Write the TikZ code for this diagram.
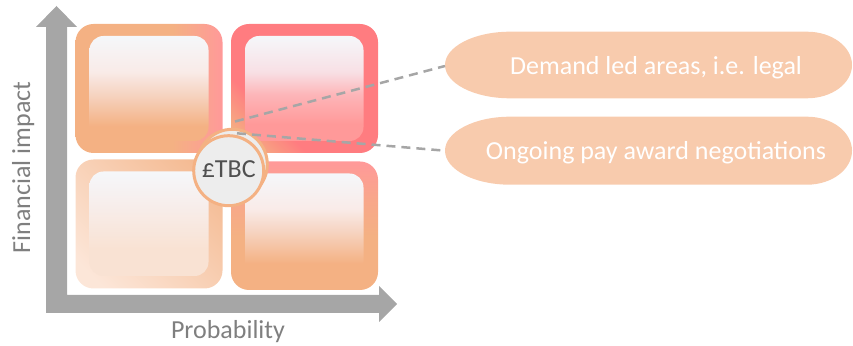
\documentclass[tikz,border=0pt]{standalone}
\usepackage{fontspec}
\setmainfont{Carlito}
\definecolor{orng}{HTML}{F4B183}
\definecolor{pinkR}{HTML}{FF7C80}
\definecolor{pinkL}{HTML}{FF9999}
\definecolor{pale}{HTML}{F5F7FA}
\definecolor{peach}{HTML}{FBE5D6}
\definecolor{lightor}{HTML}{F8CBAD}
\definecolor{axisgray}{HTML}{A6A6A6}
\definecolor{labelgray}{HTML}{7F7F7F}
\definecolor{circfill}{HTML}{EDEDED}
\definecolor{circtext}{HTML}{505050}
\definecolor{tlmidA}{HTML}{F6D3C0}
\definecolor{tlmidB}{HTML}{F9EBE8}
\definecolor{trmidA}{HTML}{FDB5B8}
\definecolor{trmidB}{HTML}{F8E0E5}
\definecolor{blbot}{HTML}{F9E2D3}
\definecolor{blmid}{HTML}{F7EEEC}
\definecolor{bloutA}{HTML}{FCE6D8}
\definecolor{bloutB}{HTML}{F4B990}
\definecolor{broutmid}{HTML}{F8A78A}
\pgfdeclarehorizontalshading{tlout}{100bp}{color(0bp)=(orng); color(58bp)=(orng); color(75bp)=(pinkL); color(100bp)=(pinkL)}
\pgfdeclareverticalshading{tlin}{100bp}{color(0bp)=(orng); color(32bp)=(orng); color(47bp)=(tlmidA); color(58bp)=(tlmidB); color(75bp)=(pale); color(100bp)=(pale)}
\pgfdeclareverticalshading{trin}{100bp}{color(0bp)=(pinkL); color(33bp)=(pinkL); color(47bp)=(trmidA); color(58bp)=(trmidB); color(75bp)=(pale); color(100bp)=(pale)}
\pgfdeclarehorizontalshading{trout}{100bp}{color(0bp)=(orng); color(20bp)=(orng); color(34bp)=(pinkR); color(100bp)=(pinkR)}
\pgfdeclareverticalshading{blin}{100bp}{color(0bp)=(blbot); color(38bp)=(blbot); color(60bp)=(blmid); color(75bp)=(pale); color(100bp)=(pale)}
\pgfdeclarehorizontalshading{blout}{100bp}{color(0bp)=(bloutA); color(22bp)=(bloutA); color(80bp)=(bloutB); color(100bp)=(bloutB)}
\pgfdeclareverticalshading{brout}{100bp}{color(0bp)=(orng); color(46bp)=(orng); color(60bp)=(broutmid); color(75bp)=(pinkL); color(100bp)=(pinkL)}
\begin{document}
\begin{tikzpicture}[x=1pt,y=1pt,
  outerbox/.style={minimum width=147pt, minimum height=129pt, rounded corners=18pt, inner sep=0pt},
  innerbox/.style={minimum width=119pt, minimum height=105pt, rounded corners=14pt, inner sep=0pt},
  coin/.style={circle, minimum size=70pt, inner sep=0pt, draw=orng, line width=3pt, fill=circfill},
  link/.style={draw=axisgray, line width=2.5pt, dash pattern=on 9pt off 6pt},
  pill/.style={fill=lightor},
  pilltext/.style={text=white, font=\fontsize{26}{30}\selectfont, anchor=base, inner sep=0pt},
  axislabel/.style={text=labelgray, font=\fontsize{26}{30}\selectfont, anchor=base, inner sep=0pt}]
\useasboundingbox (0,0) rectangle (853,345);
% axes
\fill[axisgray] (46,32) -- (379,32) -- (379,23) -- (397,41) -- (379,59) -- (379,50)
  -- (67,50) -- (67,318) -- (77,318) -- (56.5,339) -- (36,318) -- (46,318) -- cycle;
\node[axislabel] (ylab) at (30,177.5) [rotate=90] {Financial impact};
\node[axislabel] (xlab) at (228,6.6) {Probability};
% boxes
\node[outerbox, shading=tlout] (tlo) at (149,256.5) {};
\node[innerbox, shading=tlin] (tli) at (149,256.5) {};
\node[outerbox, shading=trout, shading angle=45] (tro) at (304.5,256.5) {};
\node[innerbox, shading=trin, minimum width=118.5pt] (tri) at (304.25,256.5) {};
\node[outerbox, shading=blout, shading angle=45] (blo) at (149,121) {};
\node[innerbox, shading=blin, minimum height=104.5pt] (bli) at (149,121.25) {};
\node[outerbox, shading=brout, minimum height=128.5pt] (bro) at (304.5,119.25) {};
\node[innerbox, shading=tlin, minimum width=118.5pt, minimum height=104.5pt] (bri) at (304.25,119.25) {};
% back coin
\node[coin] (back) at (232.3,180.7) {};
% pills
\fill[pill] (510,313.3) -- (807,313.3) arc[start angle=90, end angle=-90, x radius=45, y radius=33.3]
  -- (510,246.7) arc[start angle=270, end angle=90, x radius=65, y radius=33.3] -- cycle;
\fill[pill] (510,228.3) -- (807,228.3) arc[start angle=90, end angle=-90, x radius=45, y radius=34]
  -- (510,160.3) arc[start angle=270, end angle=90, x radius=65, y radius=34] -- cycle;
\node[pilltext] (p1) at (656,270) {Demand led areas, i.e. legal};
\node[pilltext] (p2) at (656,185) {Ongoing pay award negotiations};
\coordinate (p1w) at (445,279);
\coordinate (p2w) at (445,194.3);
% connectors
\coordinate (s1) at (235,223.5);
\coordinate (s2) at (237,211.7);
\draw[link] (s1) -- (p1w);
\draw[link] (s2) -- (p2w);
% front coin
\node[coin, text=circtext, font=\fontsize{26}{30}\selectfont] (front) at (228.7,174.3) {\raisebox{2.4pt}{£TBC}};
\end{tikzpicture}
\end{document}
